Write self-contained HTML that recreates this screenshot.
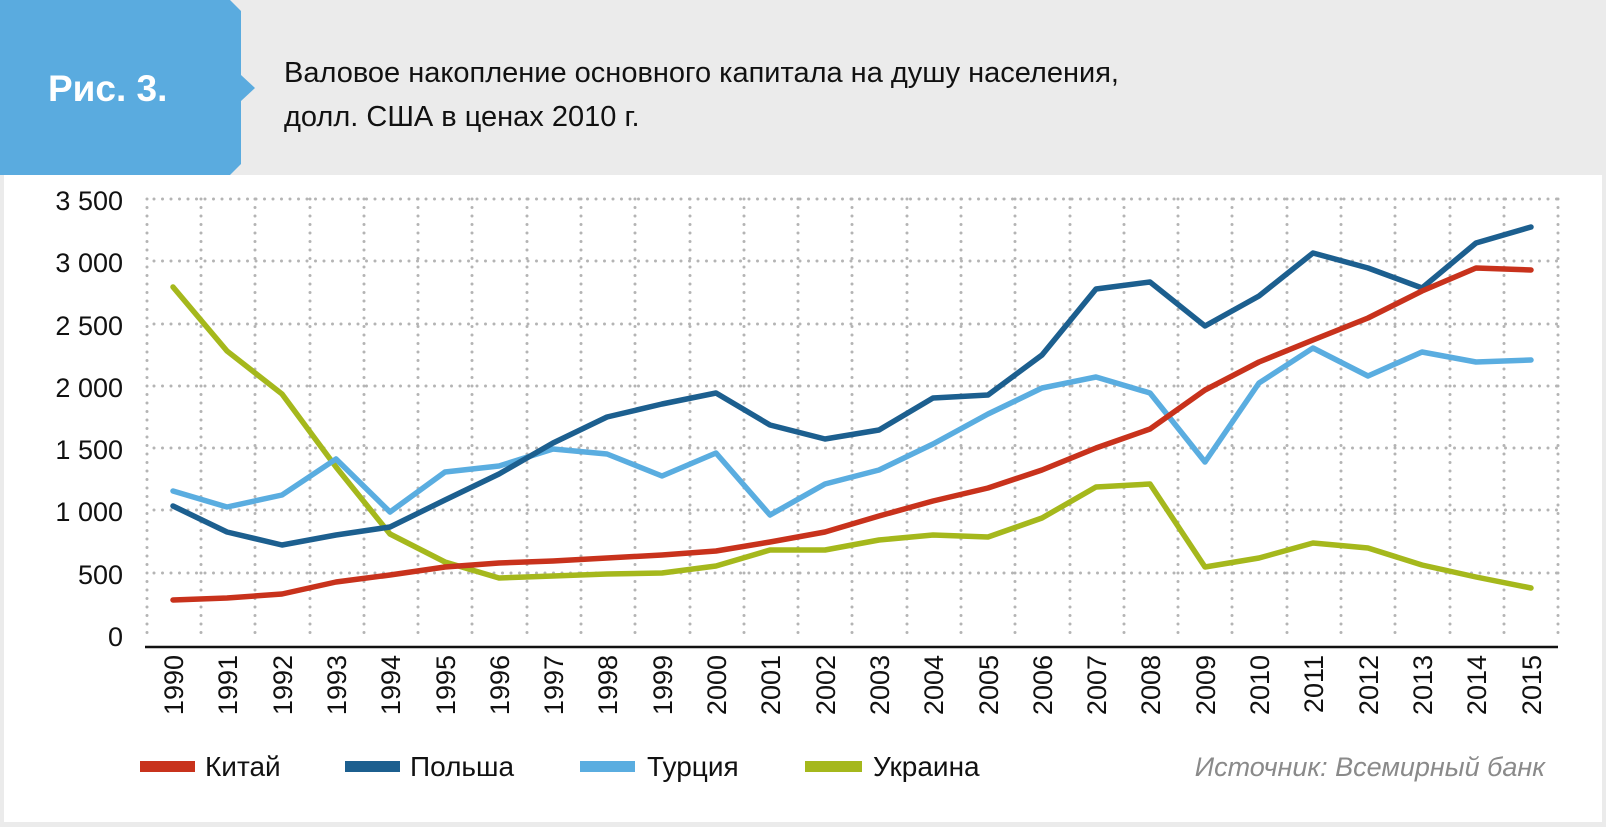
<!DOCTYPE html>
<html><head><meta charset="utf-8"><style>
html,body{margin:0;padding:0;width:1606px;height:827px;background:#ebebeb;overflow:hidden}
svg{display:block}
text{font-family:"Liberation Sans","DejaVu Sans",sans-serif}
</style></head><body>
<svg width="1606" height="827" viewBox="0 0 1606 827" xmlns="http://www.w3.org/2000/svg">
<rect x="0" y="0" width="1606" height="827" fill="#ebebeb"/>
<rect x="4" y="175" width="1598" height="647" fill="#ffffff"/>
<polygon points="0,0 230,0 241,11 241,75 255,88 241,101 241,164 230,175 0,175" fill="#5aabdf"/>
<text x="48" y="101" font-size="37" font-weight="bold" fill="#ffffff">Рис. 3.</text>
<text x="284" y="82" font-size="29" fill="#111">Валовое накопление основного капитала на душу населения,</text>
<text x="284" y="126" font-size="29" fill="#111">долл. США в ценах 2010 г.</text>
<g stroke="#b4b4b4" stroke-width="3" stroke-linecap="round" stroke-dasharray="0 8.5" fill="none">
<path d="M154 199H1558M154 261H1558M154 324H1558M154 386H1558M154 448H1558M154 510H1558M154 573H1558"/>
<path d="M147 199V635M201 199V635M255 199V635M310 199V635M364 199V635M418 199V635M472 199V635M527 199V635M581 199V635M635 199V635M690 199V635M744 199V635M798 199V635M852 199V635M907 199V635M961 199V635M1015 199V635M1070 199V635M1124 199V635M1178 199V635M1232 199V635M1287 199V635M1341 199V635M1395 199V635M1450 199V635M1504 199V635M1558 199V635"/>
</g>
<line x1="145" y1="647" x2="1558" y2="647" stroke="#111" stroke-width="2.5"/>
<g font-size="27" fill="#111" text-anchor="end">
<text x="123" y="210">3 500</text><text x="123" y="272">3 000</text><text x="123" y="335">2 500</text><text x="123" y="397">2 000</text><text x="123" y="459">1 500</text><text x="123" y="521">1 000</text><text x="123" y="584">500</text><text x="123" y="646">0</text>
</g>
<g font-size="27" fill="#111" text-anchor="end">
<text transform="translate(183,655) rotate(-90)">1990</text><text transform="translate(237,655) rotate(-90)">1991</text><text transform="translate(292,655) rotate(-90)">1992</text><text transform="translate(346,655) rotate(-90)">1993</text><text transform="translate(400,655) rotate(-90)">1994</text><text transform="translate(455,655) rotate(-90)">1995</text><text transform="translate(509,655) rotate(-90)">1996</text><text transform="translate(563,655) rotate(-90)">1997</text><text transform="translate(617,655) rotate(-90)">1998</text><text transform="translate(672,655) rotate(-90)">1999</text><text transform="translate(726,655) rotate(-90)">2000</text><text transform="translate(780,655) rotate(-90)">2001</text><text transform="translate(835,655) rotate(-90)">2002</text><text transform="translate(889,655) rotate(-90)">2003</text><text transform="translate(943,655) rotate(-90)">2004</text><text transform="translate(998,655) rotate(-90)">2005</text><text transform="translate(1052,655) rotate(-90)">2006</text><text transform="translate(1106,655) rotate(-90)">2007</text><text transform="translate(1160,655) rotate(-90)">2008</text><text transform="translate(1215,655) rotate(-90)">2009</text><text transform="translate(1269,655) rotate(-90)">2010</text><text transform="translate(1323,655) rotate(-90)">2011</text><text transform="translate(1378,655) rotate(-90)">2012</text><text transform="translate(1432,655) rotate(-90)">2013</text><text transform="translate(1486,655) rotate(-90)">2014</text><text transform="translate(1541,655) rotate(-90)">2015</text>
</g>
<g fill="none" stroke-width="5.5" stroke-linejoin="round" stroke-linecap="round">
<polyline stroke="#a5b81c" points="173,287 227,351 282,394 336,467 390,534 445,562 499,578 553,576 607,574 662,573 716,566 770,550 825,550 879,540 933,535 988,537 1042,518 1096,487 1150,484 1205,567 1259,558 1313,543 1368,548 1422,565 1476,577 1531,588"/>
<polyline stroke="#5aade0" points="173,491 227,507 282,495 336,459 390,512 445,472 499,466 553,449 607,454 662,476 716,453 770,515 825,484 879,470 933,444 988,414 1042,388 1096,377 1150,393 1205,462 1259,383 1313,348 1368,376 1422,352 1476,362 1531,360"/>
<polyline stroke="#1c5f8f" points="173,506 227,532 282,545 336,535 390,527 445,500 499,474 553,443 607,417 662,404 716,393 770,425 825,439 879,430 933,398 988,395 1042,355 1096,289 1150,282 1205,326 1259,296 1313,253 1368,268 1422,288 1476,243 1531,227"/>
<polyline stroke="#c8321c" points="173,600 227,598 282,594 336,582 390,575 445,567 499,563 553,561 607,558 662,555 716,551 770,542 825,532 879,516 933,501 988,488 1042,470 1096,448 1150,429 1205,390 1259,362 1313,340 1368,318 1422,291 1476,268 1531,270"/>
</g>
<g font-size="28" fill="#111">
<rect x="140" y="761" width="55" height="11" fill="#c8321c"/><text x="205" y="776">Китай</text>
<rect x="345" y="761" width="55" height="11" fill="#1c5f8f"/><text x="410" y="776">Польша</text>
<rect x="580" y="761" width="55" height="11" fill="#5aade0"/><text x="647" y="776">Турция</text>
<rect x="805" y="761" width="57" height="11" fill="#a5b81c"/><text x="873" y="776">Украина</text>
</g>
<text x="1545" y="776" font-size="27" font-style="italic" fill="#8a8a8a" text-anchor="end">Источник: Всемирный банк</text>
</svg>
</body></html>
